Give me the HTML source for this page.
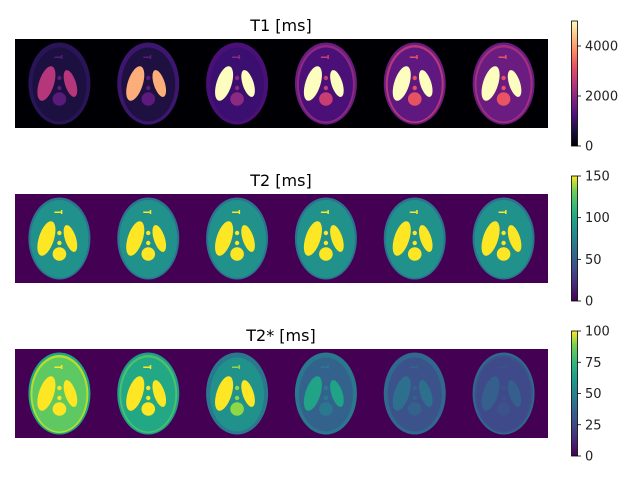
<!DOCTYPE html>
<html><head><meta charset="utf-8"><style>
html,body{margin:0;padding:0;background:#fff;width:640px;height:480px;overflow:hidden}
text{font-family:"DejaVu Sans","Liberation Sans",sans-serif}
</style></head><body>
<svg id="fig" width="640" height="480" viewBox="0 0 640 480" xmlns="http://www.w3.org/2000/svg">
<defs>
<linearGradient id="magma" x1="0" y1="1" x2="0" y2="0">
<stop offset="0" stop-color="#000004"/><stop offset="0.13" stop-color="#1c1044"/><stop offset="0.25" stop-color="#4f127b"/><stop offset="0.38" stop-color="#812581"/><stop offset="0.5" stop-color="#b5367a"/><stop offset="0.63" stop-color="#e55064"/><stop offset="0.75" stop-color="#fb8761"/><stop offset="0.88" stop-color="#fec287"/><stop offset="1" stop-color="#fcfdbf"/>
</linearGradient>
<linearGradient id="viridis" x1="0" y1="1" x2="0" y2="0">
<stop offset="0" stop-color="#440154"/><stop offset="0.13" stop-color="#482878"/><stop offset="0.25" stop-color="#3e4989"/><stop offset="0.38" stop-color="#31688e"/><stop offset="0.5" stop-color="#26828e"/><stop offset="0.63" stop-color="#1f9e89"/><stop offset="0.75" stop-color="#35b779"/><stop offset="0.88" stop-color="#6ece58"/><stop offset="1" stop-color="#fde725"/>
</linearGradient>
</defs>
</svg>
<script>
const rowTitles = ["T1 [ms]", "T2 [ms]", "T2* [ms]"];
const rowBg = ["#000004", "#440154", "#440154"];
// colors per phantom: [outerRing, innerRing, fill, lungs, dotsCircle]
const t1Colors = [
 ["#2a1458","#2a1458","#1c1040","#b5367a","#5a1a7a"],
 ["#3d1670","#3d1670","#1e1040","#fcae7a","#5c1a7c"],
 ["#4a1078","#4a1078","#3b0f70","#fcfdbf","#8c2981"],
 ["#6a1c80","#8c2981","#4a1078","#fcfdbf","#c83e73"],
 ["#6a1c80","#b73779","#5f187f","#fcfdbf","#e75263"],
 ["#6a1c80","#a3307e","#6a1c80","#fcfdbf","#e95462"]
];
const t2Colors = [
 ["#2c728e","#21918c","#21918c","#fde725","#fde725"],
 ["#2c728e","#21918c","#21918c","#fde725","#fde725"],
 ["#2c728e","#21918c","#21918c","#fde725","#fde725"],
 ["#2c728e","#21918c","#21918c","#fde725","#fde725"],
 ["#2c728e","#21918c","#21918c","#fde725","#fde725"],
 ["#2c728e","#21918c","#21918c","#fde725","#fde725"]
];
const t2sColors = [
 ["#21a685","#b5de2b","#5ec962","#fde725","#fde725"],
 ["#1f9e89","#4ac16d","#22a884","#fde725","#fde725"],
 ["#2a788e","#2a788e","#21918c","#fde725","#8fd744"],
 ["#2a788e","#2a788e","#33638d","#20a386","#2a788e"],
 ["#31688e","#31688e","#3b528b","#2d708e","#33638d"],
 ["#31688e","#3b528b","#3e4a89","#355f8d","#3b528b"]
];
const rowColors = [t1Colors, t2Colors, t2sColors];
const cbTicks = [[0,2000,4000],[0,50,100,150],[0,25,50,75,100]];
const cbMax = [5000,150,100];
const cbGrad = ["magma","viridis","viridis"];

const svg = document.getElementById('fig');
const NS = "http://www.w3.org/2000/svg";
function mk(tag, attrs, parent){const e=document.createElementNS(NS,tag);for(const k in attrs)e.setAttribute(k,attrs[k]);(parent||svg).appendChild(e);return e;}
const rowTop=[39,194,349], H=89, X0=15, W=533, cell=W/6;
const cbTop=[21,176,331], cbH=125;
for(let r=0;r<3;r++){
  const g=mk('g',{});
  
  
  const t=mk('text',{x:281,y:rowTop[r]-8,'text-anchor':'middle','font-size':16,fill:'#000'},g);
  t.textContent=rowTitles[r];
  
  
  const bg=mk('rect',{x:X0,y:rowTop[r],width:W,height:H,fill:rowBg[r]},g);
  
  
  for(let i=0;i<6;i++){
    const c=rowColors[r][i];
    const cx=X0+cell*i+cell/2, cy=rowTop[r]+H/2;
    const p=mk('g',{transform:`translate(${cx},${cy})`},g);
    
    
    mk('ellipse',{cx:0,cy:0,rx:31,ry:41,fill:c[0]},p);
    mk('ellipse',{cx:0,cy:0.5,rx:29,ry:39,fill:c[1]},p);
    mk('ellipse',{cx:0,cy:1,rx:27,ry:37,fill:c[2]},p);
    mk('ellipse',{cx:0,cy:0,rx:7.5,ry:18,fill:c[3],transform:'translate(-13,0) rotate(18)'},p);
    mk('ellipse',{cx:0,cy:0,rx:5.5,ry:14,fill:c[3],transform:'translate(11,0) rotate(-18)'},p);
    mk('circle',{cx:0,cy:-5.5,r:2.2,fill:c[4]},p);
    mk('circle',{cx:0,cy:4.5,r:2.2,fill:c[4]},p);
    mk('circle',{cx:0,cy:15.5,r:6.8,fill:c[4]},p);
    mk('rect',{x:-5,y:-27,width:7,height:1.5,fill:c[4]},p);
    mk('rect',{x:1.5,y:-28.5,width:1.5,height:4,fill:c[4]},p);
  }
  const cb=mk('g',{},g);
  
  
  mk('rect',{x:571.5,y:cbTop[r],width:6,height:cbH,fill:`url(#${cbGrad[r]})`,stroke:'#000','stroke-width':0.8},cb);
  cbTicks[r].forEach(v=>{
    const y=cbTop[r]+cbH-v/cbMax[r]*cbH;
    mk('line',{x1:577.5,x2:581,y1:y,y2:y,stroke:'#000','stroke-width':0.8},cb);
    const tl=mk('text',{x:585,y:y+4.5,'font-size':13,fill:'#222'},cb);
    tl.textContent=v;
    
    
  });
}
</script>
</body></html>
